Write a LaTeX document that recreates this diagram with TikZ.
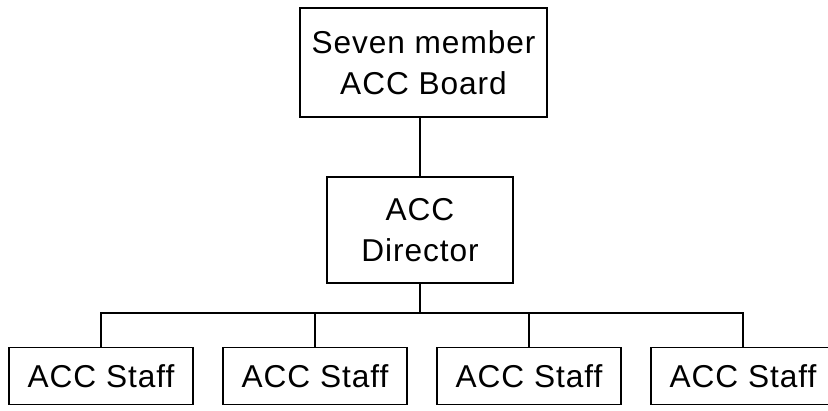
\documentclass[tikz,border=0pt]{standalone}
\usepackage{fontspec}
\setmainfont{Liberation Sans}[LetterSpace=3]
\begin{document}
\begin{tikzpicture}
  [x=0.02cm, y=-0.02cm, boardbox/.style={
    draw=black,
    rectangle,
    line width=.7pt,
    inner sep=0pt,
    align=center,
    font=\fontsize{18}{23.3}\selectfont,
    minimum width=4.94cm,
    minimum height=2.18cm}, directorbox/.style={
    draw=black,
    rectangle,
    line width=.7pt,
    inner sep=0pt,
    align=center,
    font=\fontsize{18}{23.3}\selectfont,
    minimum width=3.72cm,
    minimum height=2.12cm}, staffbox/.style={
    draw=black,
    rectangle,
    line width=.7pt,
    inner sep=0pt,
    font=\fontsize{18}{23.3}\selectfont,
    minimum width=3.68cm,
    minimum height=1.14cm}, link/.style={
    line width=1.3pt}]

  \useasboundingbox (0,0) rectangle (828,410);

  \node [boardbox] at (423.5,62.5) (board) {Seven member\\ACC Board};

  \node [directorbox] at (420,230) (director) {ACC\\Director};

  \node [staffbox] at (101,376) (staff1) {ACC Staff};
  \node [staffbox] at (315,376) (staff2) {ACC Staff};
  \node [staffbox] at (529,376) (staff3) {ACC Staff};
  \node [staffbox] at (743,376) (staff4) {ACC Staff};

  \coordinate (bar) at (420,313);

  \draw [link] (board.south -| director) -- (director);
  \draw [link] (director) -- (bar);
  \draw [link] (bar) -| (staff1);
  \draw [link] (bar) -| (staff2);
  \draw [link] (bar) -| (staff3);
  \draw [link] (bar) -| (staff4);
\end{tikzpicture}
\end{document}
